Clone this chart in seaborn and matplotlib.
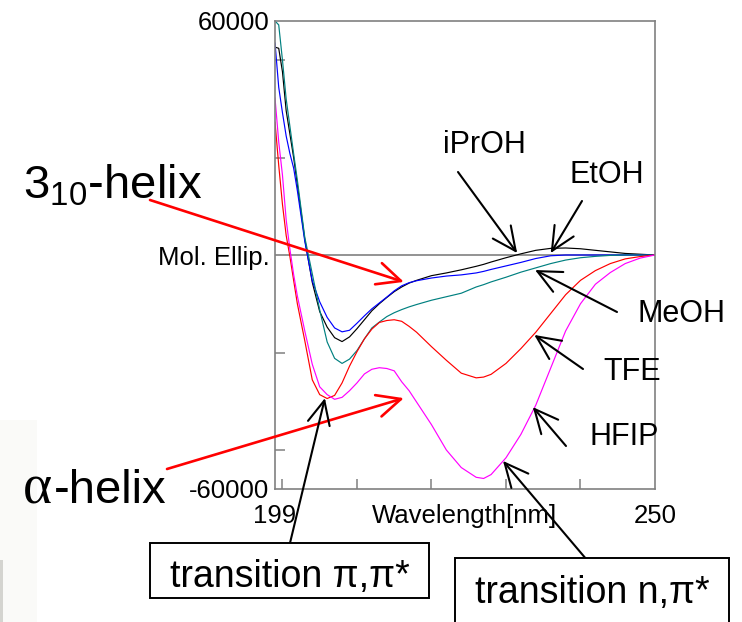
import matplotlib
matplotlib.use("Agg")
import matplotlib.pyplot as plt
from matplotlib.patches import Rectangle
import pandas as pd
import seaborn as sns

# CD spectra of a peptide in five solvents (molar ellipticity vs wavelength)
wavelength = [199, 199.5, 200, 200.5, 201, 201.5, 202, 203, 204, 205,
              206, 207, 208, 209, 210, 211, 212, 213, 214, 215,
              216, 217, 218, 220, 222, 224, 226, 227, 228, 230,
              232, 234, 236, 238, 240, 242, 244, 246, 248, 250]

iproh = [53300, 53000, 47000, 37000, 31000, 25000, 18000, 4000, -7000, -14500,
         -18500, -21200, -22200, -21000, -18900, -16600, -14300, -12500, -10900, -9400,
         -8200, -7200, -6500, -5300, -4600, -3800, -2900, -2400, -1800, -700,
         300, 1200, 1700, 1800, 1600, 1200, 800, 400, 200, 0]

etoh = [54400, 43000, 36500, 30500, 26000, 22300, 16500, 3500, -6600, -12000,
        -16000, -18700, -19700, -19300, -17500, -15600, -13800, -12300, -10800, -9200,
        -7900, -7100, -6600, -5900, -5400, -5100, -4600, -4200, -3700, -2800,
        -1900, -900, -200, 0, 0, 0, 0, 0, 0, 0]

meoh = [60000, 59000, 50000, 40000, 33000, 26000, 19200, 4500, -4800, -14100,
        -22300, -26500, -27800, -26700, -24500, -21500, -18700, -17200, -15800, -14800,
        -14000, -13300, -12700, -11600, -10700, -9800, -8200, -7600, -6900, -5700,
        -4400, -3300, -2200, -1300, -700, -350, -100, 0, 0, 0]

tfe = [34100, 23000, 13000, 5000, -400, -6500, -12500, -22000, -32000, -35800,
       -36800, -36000, -32800, -28500, -24800, -21500, -19000, -17300, -16800, -16600,
       -17000, -18300, -19800, -23500, -27000, -30300, -31500, -31300, -30600, -27800,
       -24000, -19800, -15000, -10200, -6500, -4000, -2200, -1000, -400, 0]

hfip = [40300, 29000, 20500, 9000, 1500, -5000, -10500, -19500, -28000, -33800,
        -35800, -37000, -36500, -34800, -32800, -30500, -29300, -28900, -29100, -29700,
        -32500, -34800, -37700, -43500, -50000, -54500, -57000, -57300, -56300, -52000,
        -46000, -38500, -29000, -19500, -12500, -7500, -4500, -2200, -800, 0]

solvents = ["iPrOH", "EtOH", "MeOH", "TFE", "HFIP"]
series = [iproh, etoh, meoh, tfe, hfip]
colors = {"iPrOH": "#000000", "EtOH": "#0000ff", "MeOH": "#008080",
          "TFE": "#ff0000", "HFIP": "#ff00ff"}

x_ticklabels = ["199", "Wavelength[nm]", "250"]
y_ticklabels = ["-60000", "Mol. Ellip.", "60000"]

df = pd.concat(
    [pd.DataFrame({"Wavelength": wavelength, "Ellipticity": vals, "Solvent": name})
     for name, vals in zip(solvents, series)],
    ignore_index=True,
)

sns.set_style("white")
plt.rcParams["font.family"] = ["Liberation Sans", "DejaVu Sans"]
plt.rcParams["text.color"] = "black"

W, H = 742, 622
fig = plt.figure(figsize=(W / 100, H / 100), dpi=100)
ax = fig.add_axes([275 / W, 1 - 489 / H, 380 / W, 468 / H])


def fx(x):
    return x / W


def fy(y):
    return 1 - y / H


# faint scanner shading along the lower left edge of the sheet
fig.patches.append(Rectangle((0, 0), 37 / W, 202 / H, transform=fig.transFigure,
                             fc="#fafaf8", ec="none", zorder=0))
fig.patches.append(Rectangle((0, 0), 3 / W, 62 / H, transform=fig.transFigure,
                             fc="#d4d4d0", ec="none", zorder=0))

ax.axhline(0, color="#808080", lw=1.2, zorder=0.5)
sns.lineplot(data=df, x="Wavelength", y="Ellipticity", hue="Solvent",
             hue_order=solvents, palette=colors, estimator=None,
             legend=False, linewidth=0.85, ax=ax)

ax.set_xlim(199, 250)
ax.set_ylim(-60000, 60000)
ax.set_xlabel("")
ax.set_ylabel("")

ax.set_xticks([199, 224.5, 250])
ax.set_xticklabels(x_ticklabels)
ax.set_xticks([200, 210, 220, 230, 240], minor=True)
ax.set_yticks([-60000, 0, 60000])
ax.set_yticklabels(y_ticklabels)
ax.set_yticks([-50000, -25000, 25000, 50000], minor=True)

ax.tick_params(which="both", bottom=True, left=True, top=False, right=False,
               labelcolor="black")
ax.tick_params(axis="x", which="major", length=0, labelsize=18.5, pad=11)
ax.tick_params(axis="y", which="major", length=0, labelsize=18.5, pad=4)
ax.tick_params(which="minor", direction="in", length=7, width=1.1, color="#808080")

for s in ax.spines.values():
    s.set_color("#808080")
    s.set_linewidth(1.2)

# solvent labels and pointers
labels = [
    ("iPrOH", (443, 153), (458, 172), (231.5, 500)),
    ("EtOH", (570, 183), (582, 201), (236.0, 500)),
    ("MeOH", (637, 322), (617, 312), (233.9, -3850)),
    ("TFE", (603, 380), (583, 369), (233.8, -20500)),
    ("HFIP", (589, 445), (566, 446), (233.6, -39000)),
]
black_arrow = dict(arrowstyle="->,head_length=0.85,head_width=0.4", color="black",
                   lw=1.5, shrinkA=0, shrinkB=0, mutation_scale=20)
red_arrow = dict(arrowstyle="->,head_length=0.85,head_width=0.4", color="#ff0000",
                 lw=1.9, shrinkA=0, shrinkB=0, mutation_scale=20)

for text, pos, start, tip in labels:
    fig.text(fx(pos[0]), fy(pos[1]), text, fontsize=22, ha="left", va="baseline")
    ax.annotate("", xy=tip, xycoords="data", xytext=(start[0], H - start[1]),
                textcoords="figure pixels", arrowprops=black_arrow,
                annotation_clip=False)

# helix labels
fig.text(fx(23), fy(199), r"$\mathregular{3_{10}}$-helix", fontsize=34,
         ha="left", va="baseline")
ax.annotate("", xy=(216.3, -6900), xycoords="data", xytext=(150, H - 200),
            textcoords="figure pixels", arrowprops=red_arrow, annotation_clip=False)

fig.text(fx(23), fy(503), "α", fontsize=40, family="Liberation Serif",
         ha="left", va="baseline")
fig.text(fx(54), fy(503), "-helix", fontsize=34, ha="left", va="baseline")
ax.annotate("", xy=(216.3, -36700), xycoords="data", xytext=(167, H - 469),
            textcoords="figure pixels", arrowprops=red_arrow, annotation_clip=False)

# transition boxes
box1 = Rectangle((fx(150), fy(598)), 279 / W, 55 / H, transform=fig.transFigure,
                 fc="white", ec="black", lw=1.4, zorder=1)
box2 = Rectangle((fx(455), fy(640)), 274 / W, 82 / H, transform=fig.transFigure,
                 fc="white", ec="black", lw=1.4, zorder=1)
fig.patches.extend([box1, box2])
fig.text(fx(170), fy(587), "transition π,π*", fontsize=27, ha="left", va="baseline", zorder=3)
fig.text(fx(475), fy(603), "transition n,π*", fontsize=27, ha="left", va="baseline", zorder=3)

ax.annotate("", xy=(205.7, -36700), xycoords="data", xytext=(290, H - 543),
            textcoords="figure pixels", arrowprops=black_arrow, annotation_clip=False)
ax.annotate("", xy=(229.6, -52800), xycoords="data", xytext=(598, H - 573),
            textcoords="figure pixels", arrowprops=black_arrow, annotation_clip=False)

fig.savefig("out.png", dpi=100)
